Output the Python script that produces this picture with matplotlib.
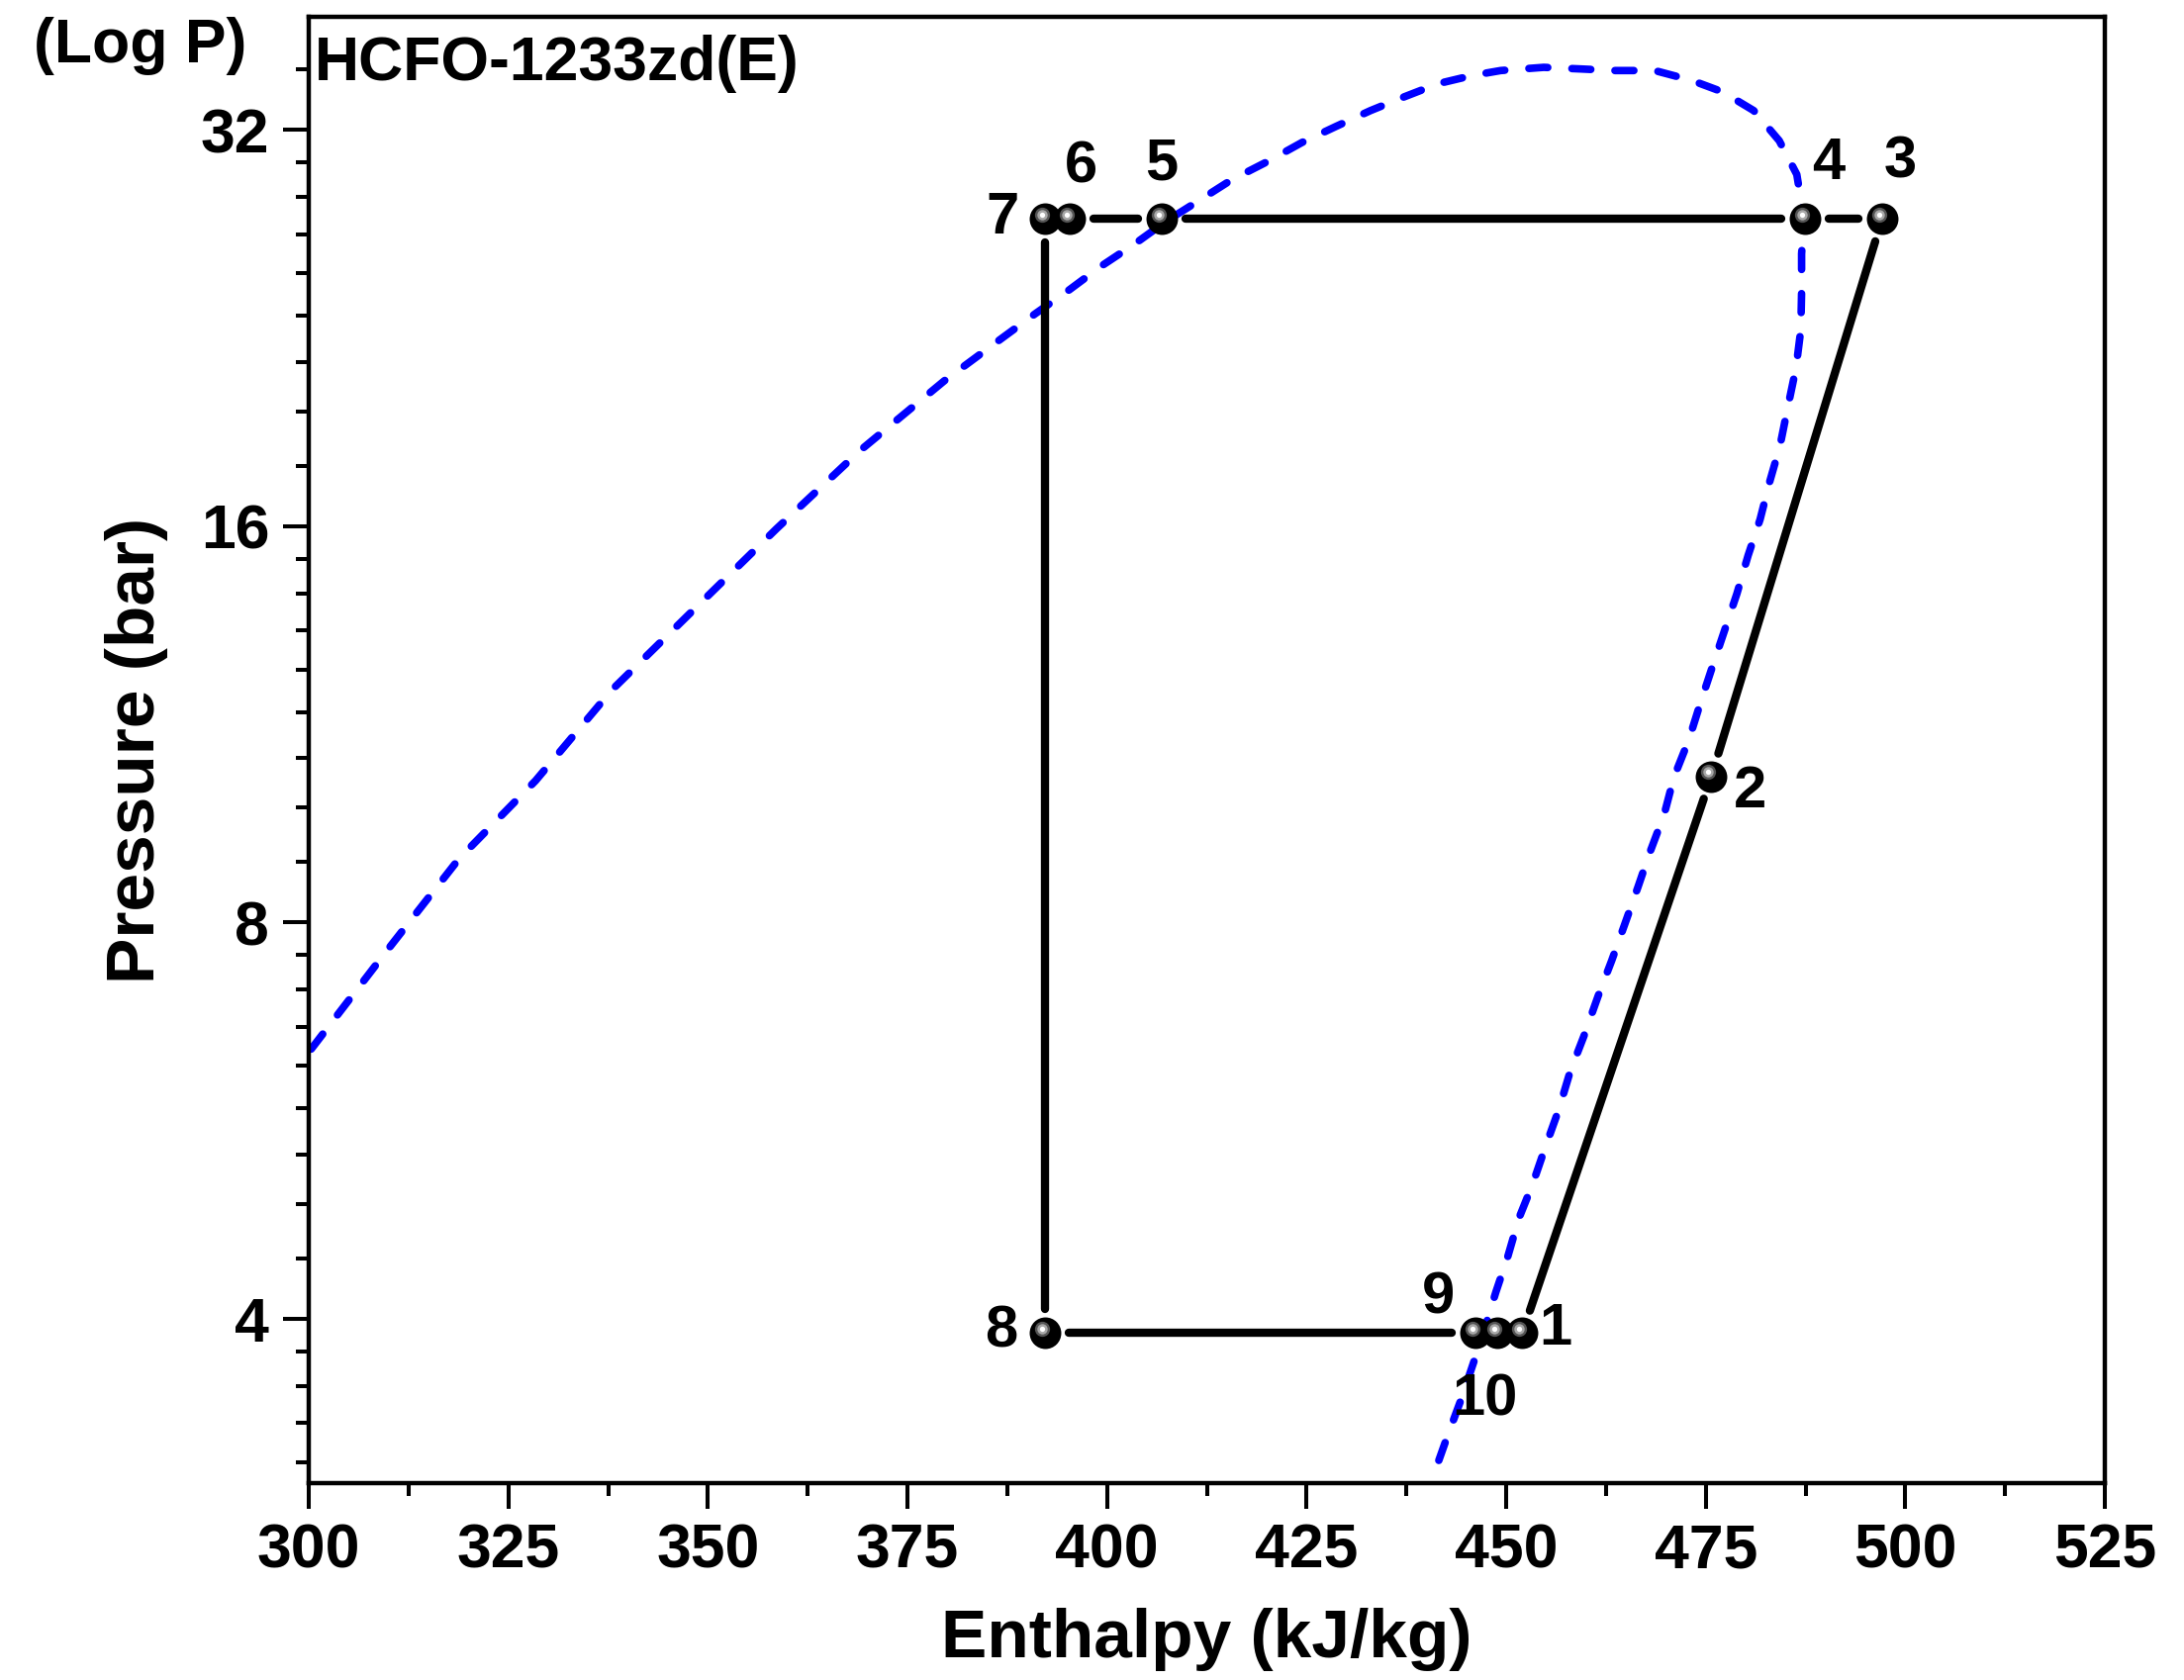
import numpy as np
import matplotlib
matplotlib.use("Agg")
import matplotlib.pyplot as plt
from matplotlib.ticker import FixedLocator, FixedFormatter, NullFormatter
from matplotlib.transforms import offset_copy

plt.rcParams["font.family"] = ["Liberation Sans", "DejaVu Sans"]
plt.rcParams["font.weight"] = "bold"

# Cycle state points (enthalpy kJ/kg, pressure bar)
state_labels = ["1", "2", "3", "4", "5", "6", "7", "8", "9", "10"]
state_h = [452.0, 475.7, 497.1, 487.4, 406.8, 395.3, 392.2, 392.2, 446.2, 448.9]
state_p = [3.90, 10.33, 27.4, 27.4, 27.4, 27.4, 27.4, 3.90, 3.90, 3.90]
cycle_order = [0, 1, 2, 3, 4, 5, 6, 7, 8, 9, 0]

# Saturation dome of HCFO-1233zd(E), liquid side -> critical region -> vapour side
dome_h = [300.3, 309.9, 318.8, 328.4, 338.0, 348.3, 358.6, 369.0, 379.6, 386.7,
          391.0, 395.3, 399.2, 403.4, 407.5, 411.6, 415.5, 420.2, 424.4, 428.7,
          433.0, 437.2, 441.5, 445.8, 449.3, 454.7, 459.3, 463.6, 468.6, 473.2,
          477.1, 481.0, 484.2, 486.4, 487.3, 487.0, 487.0, 486.9, 486.3, 485.3,
          484.3, 483.0, 481.8, 480.3, 478.9, 477.4, 475.8, 474.3, 472.9, 471.0,
          469.8, 467.9, 466.5, 464.8, 463.2, 461.5, 459.7, 458.0, 456.6, 454.9,
          453.3, 451.6, 450.2, 448.7, 446.9, 444.4, 442.5, 440.8]
dome_p = [6.41, 7.63, 8.94, 10.25, 12.02, 13.84, 15.93, 18.25, 20.63, 22.2,
          23.2, 24.2, 25.2, 26.2, 27.3, 28.3, 29.3, 30.3, 31.3, 32.2,
          33.1, 33.9, 34.7, 35.2, 35.5, 35.7, 35.6, 35.5, 35.5, 34.9,
          34.2, 33.1, 31.4, 29.6, 27.4, 25.76, 24.1, 22.55, 21.1, 19.74,
          18.42, 17.29, 16.19, 15.20, 14.22, 13.36, 12.50, 11.73, 11.02, 10.31,
          9.67, 9.01, 8.51, 7.96, 7.48, 7.03, 6.55, 6.16, 5.77, 5.40,
          5.06, 4.77, 4.46, 4.19, 3.86, 3.48, 3.24, 3.03]

x_ticks = [300, 325, 350, 375, 400, 425, 450, 475, 500, 525]
y_ticks = [4, 8, 16, 32]
y_tick_labels = ["4", "8", "16", "32"]

# label offsets from each marker (points)
label_offsets = [(24, 7), (28, -7), (13, 45), (17, 44), (0, 44),
                 (8, 42), (-31, 5), (-32, 5), (-27, 30), (-9, -44)]

fig = plt.figure(figsize=(22.07, 16.98), dpi=100)
ax = fig.add_axes([0.1414, 0.1172, 0.8224, 0.8728])
ax.set_yscale("log")
ax.set_xlim(300, 525)
ax.set_ylim(3.0, 39.0)

# axes styling
for sp in ax.spines.values():
    sp.set_linewidth(3.2)
ax.xaxis.set_major_locator(FixedLocator(x_ticks))
ax.xaxis.set_minor_locator(FixedLocator([t + 12.5 for t in x_ticks[:-1]]))
ax.yaxis.set_major_locator(FixedLocator(y_ticks))
ax.yaxis.set_major_formatter(FixedFormatter(y_tick_labels))
minor_y = [b * (1 + k / 9) for b in (2, 4, 8, 16, 32) for k in range(1, 9)]
ax.yaxis.set_minor_locator(FixedLocator(minor_y))
ax.yaxis.set_minor_formatter(NullFormatter())
ax.tick_params(which="major", direction="out", length=18.7, width=2.9,
               labelsize=45, pad=10)
ax.tick_params(which="minor", direction="out", length=9.4, width=2.9)
ax.tick_params(top=False, right=False, which="both")
for lab in ax.get_xticklabels() + ax.get_yticklabels():
    lab.set_fontweight("bold")

ax.set_xlabel("Enthalpy (kJ/kg)", fontsize=50, fontweight="bold")
ax.set_ylabel("Pressure (bar)", fontsize=50, fontweight="bold")
ax.xaxis.set_label_coords(0.5, -0.085)
ax.yaxis.set_label_coords(-0.078, 0.5)

# saturation dome
ax.plot(dome_h, dome_p, color="#0000ff", lw=5.5, dashes=(2.5, 3.2),
        dash_capstyle="round", zorder=2)

# cycle lines, trimmed short of the symbols
trim = 24
pts = ax.transData.transform(np.column_stack([state_h, state_p]))
inv = ax.transData.inverted()
for a, b in zip(cycle_order[:-1], cycle_order[1:]):
    p0, p1 = pts[a], pts[b]
    d = p1 - p0
    dist = np.hypot(*d)
    if dist <= 2 * trim:
        continue
    u = d / dist
    q = inv.transform(np.array([p0 + u * trim, p1 - u * trim]))
    ax.plot(q[:, 0], q[:, 1], color="black", lw=6,
            solid_capstyle="round", zorder=3)

# shiny spherical symbols
ax.plot(state_h, state_p, "o", ms=23, mfc="black", mec="black", mew=0,
        zorder=4)
hl = offset_copy(ax.transData, fig=fig, x=-2.2, y=3.0, units="points")
for size, col in [(11, "#555555"), (7.5, "#a8a8a8"), (3.8, "#ffffff")]:
    ax.plot(state_h, state_p, "o", ms=size, mfc=col, mew=0, transform=hl,
            zorder=5)

for lab, h, p, (dx, dy) in zip(state_labels, state_h, state_p, label_offsets):
    ax.annotate(lab, (h, p), xytext=(dx, dy - 15.5), textcoords="offset points",
                ha="center", va="baseline", fontsize=43, fontweight="bold",
                zorder=6)

ax.text(0.003, 0.988, "HCFO-1233zd(E)", transform=ax.transAxes, ha="left",
        va="top", fontsize=45, fontweight="bold")
fig.text(142 / 2207, 1 - 46 / 1698, "(Log P)", ha="center", va="center",
         fontsize=45, fontweight="bold")

fig.savefig("out.png", dpi=100)
